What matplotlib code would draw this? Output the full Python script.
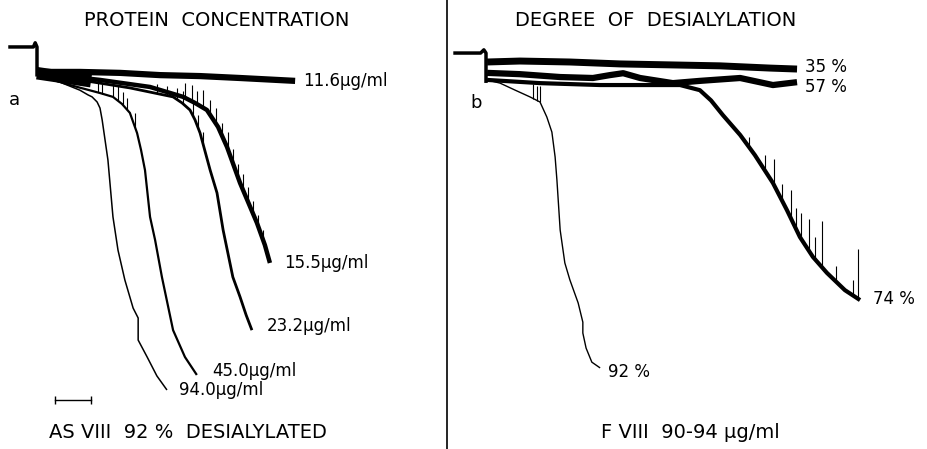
import matplotlib
matplotlib.use("Agg")
import matplotlib.pyplot as plt
from matplotlib.lines import Line2D
import numpy as np

# time in min after addition, response in % (0 = baseline after addition)

# panel a: protein concentration series
pre_a_t = [-0.75, -0.1, -0.05, 0.0, 0.0]
pre_a_y = [-7.2, -7.2, -8.5, -7.2, 1.5]

a_labels = ["11.6\u00b5g/ml", "15.5\u00b5g/ml", "23.2\u00b5g/ml", "45.0\u00b5g/ml", "94.0\u00b5g/ml"]

a116_t = [0, 1.19, 2.31, 3.42, 4.53, 5.64, 7.17]
a116_y = [0.6, 0.6, 0.9, 1.6, 1.9, 2.5, 3.4]

a155_t = [0, 1.75, 3.14, 4.06, 4.39, 4.72, 5.03, 5.28, 5.64, 6.11, 6.33, 6.47]
a155_y = [0.9, 3.1, 5.3, 8.4, 10.3, 12.5, 17.8, 24.1, 35.3, 47.8, 54.7, 60.3]

a232_t = [0, 1.19, 2.58, 3.78, 4.03, 4.25, 4.39, 4.53, 4.81, 5.0, 5.17, 5.44, 5.64,
          5.81, 5.97]
a232_y = [1.3, 3.1, 5.6, 8.4, 10.3, 12.5, 15.6, 19.7, 31.3, 38.4, 50.0, 64.7, 70.9,
          76.6, 81.3]

a450_t = [0, 0.92, 1.75, 2.11, 2.36, 2.58, 2.78, 2.89, 3.0, 3.14, 3.28, 3.47, 3.78,
          4.11, 4.44]
a450_y = [1.6, 4.7, 7.2, 8.4, 10.6, 13.4, 19.7, 25.0, 31.3, 45.9, 53.1, 64.7, 81.3,
          89.7, 95.3]

a940_t = [0, 0.64, 1.19, 1.42, 1.53, 1.67, 1.75, 1.81, 1.97, 2.11, 2.25, 2.44, 2.67,
          2.81, 2.81, 3.06, 3.33, 3.61]
a940_y = [1.6, 3.8, 6.3, 7.8, 8.4, 10.0, 11.9, 15.6, 28.1, 45.9, 56.3, 65.6, 74.4,
          77.5, 84.4, 89.7, 95.6, 100.0]

# oscillation spikes (time, height)
a155_spk_t = [4.1, 4.3, 4.45, 4.6, 4.8, 4.97, 5.14, 5.3, 5.44, 5.58, 5.72, 5.86, 6.0, 6.14, 6.28]
a155_spk_h = [4.5, 5.0, 4.0, 5.5, 4.5, 5.0, 4.0, 5.5, 4.5, 4.0, 5.0, 4.5, 4.0, 3.5, 3.0]
a232_spk_t = [3.33, 3.61, 3.89, 4.06, 4.33, 4.47, 4.61]
a232_spk_h = [3.0, 3.0, 3.5, 4.0, 4.5, 4.0, 3.5]
a450_spk_t = [1.69, 1.81, 2.11, 2.25, 2.39, 2.5, 2.72]
a450_spk_h = [3.5, 3.0, 4.0, 4.5, 4.0, 3.5, 4.5]

scale_t = [0.5, 1.5]
scale_y = [103.1, 103.1]

# panel b: degree of desialylation
pre_b_t = [-0.86, -0.15, -0.06, 0.0, 0.0]
pre_b_y = [-5.3, -5.3, -6.3, -5.3, 3.5]

b_labels = ["35 %", "57 %", "74 %", "92 %"]

b35_t = [0.03, 0.94, 2.33, 3.72, 5.11, 6.5, 7.89, 8.64]
b35_y = [-2.5, -2.8, -2.5, -1.9, -1.6, -1.3, -0.6, -0.3]

b57_t = [0.03, 0.94, 2.06, 2.97, 3.44, 3.81, 4.28, 5.19, 5.94, 7.06, 7.97, 8.64]
b57_y = [0.9, 1.3, 2.2, 2.5, 1.6, 1.0, 2.5, 4.1, 3.4, 2.5, 4.7, 3.8]

b74_t = [0.03, 1.5, 3.17, 5.39, 5.94, 6.25, 6.58, 7.06, 7.47, 7.97, 8.36, 8.72, 9.08,
         9.47, 9.97, 10.39]
b74_y = [3.1, 4.1, 4.7, 4.7, 6.3, 9.5, 14.1, 20.3, 26.6, 35.3, 43.8, 52.2, 58.4,
         63.4, 68.8, 71.9]

b92_t = [0.03, 0.39, 0.81, 1.22, 1.5, 1.69, 1.83, 1.92, 1.97, 2.06, 2.19, 2.33,
         2.56, 2.69, 2.69, 2.78, 2.94, 3.17]
b92_y = [3.1, 4.1, 6.3, 8.4, 10.0, 14.7, 19.4, 27.2, 34.4, 50.0, 60.3, 65.6,
         72.8, 78.8, 82.2, 86.9, 91.3, 93.1]

b74_spk_t = [7.3, 7.75, 8.0, 8.22, 8.47, 8.61, 8.75, 8.97, 9.14, 9.33, 9.72, 10.2, 10.33]
b74_spk_h = [3.0, 5.0, 8.0, 5.0, 9.0, 6.5, 8.0, 10.0, 7.0, 14.5, 5.0, 5.0, 15.5]
b92_spk_t = [1.31, 1.42, 1.5]
b92_spk_h = [4.5, 4.5, 5.0]

W, H = 928, 449
fig = plt.figure(figsize=(W / 100, H / 100), dpi=100)
fig.patch.set_facecolor("white")

# px -> data: t = (px - x0)/36, y = (py - 70)/3.2
ax_a = fig.add_axes([0, 0, 447 / W, 1])
ax_a.set_xlim(-37 / 36, 410 / 36)
ax_a.set_ylim(379 / 3.2, -70 / 3.2)
ax_b = fig.add_axes([448 / W, 0, 480 / W, 1])
ax_b.set_xlim(-38 / 36, 442 / 36)
ax_b.set_ylim(379 / 3.2, -70 / 3.2)
for ax in (ax_a, ax_b):
    ax.axis("off")

k = "black"
lab_kw = dict(fontsize=12, color=k, va="center", ha="left",
              textcoords="offset points")


def trace(ax, t, y, lw, label=None, dx=10, dy=0):
    ax.plot(t, y, color=k, lw=lw, solid_capstyle="butt", solid_joinstyle="round")
    if label:
        ax.annotate(label, (t[-1], y[-1]), xytext=(dx, dy), **lab_kw)


def spikes(ax, t, y, st, sh):
    base = np.interp(st, t, y)
    ax.vlines(st, base - np.array(sh), base, color=k, lw=0.8)


# panel a
ax_a.plot(pre_a_t, pre_a_y, color=k, lw=2.5)
trace(ax_a, a116_t, a116_y, 4.5, a_labels[0], dx=6)
trace(ax_a, a155_t, a155_y, 3.2, a_labels[1], dx=10, dy=0)
trace(ax_a, a232_t, a232_y, 2.0, a_labels[2], dx=11, dy=3)
trace(ax_a, a450_t, a450_y, 1.6, a_labels[3], dx=11, dy=3)
trace(ax_a, a940_t, a940_y, 1.1, a_labels[4], dx=9, dy=0)
ax_a.plot([0, 1.5], [1.0, 3.5], color=k, lw=9, solid_capstyle="butt")
spikes(ax_a, a155_t, a155_y, a155_spk_t, a155_spk_h)
spikes(ax_a, a232_t, a232_y, a232_spk_t, a232_spk_h)
spikes(ax_a, a450_t, a450_y, a450_spk_t, a450_spk_h)
ax_a.plot(scale_t, scale_y, color=k, lw=1.0, marker="|", ms=6, mew=1.0)
ax_a.text(-0.64, 9.4, "a", fontsize=13, ha="center", va="center")

# panel b
ax_b.plot(pre_b_t, pre_b_y, color=k, lw=2.5)
trace(ax_b, b35_t, b35_y, 5.0, b_labels[0], dx=6, dy=1.5)
trace(ax_b, b57_t, b57_y, 4.5, b_labels[1], dx=6, dy=-3.5)
trace(ax_b, b74_t, b74_y, 3.0, b_labels[2], dx=9, dy=1)
trace(ax_b, b92_t, b92_y, 1.0, b_labels[3], dx=6, dy=-3)
spikes(ax_b, b74_t, b74_y, b74_spk_t, b74_spk_h)
spikes(ax_b, b92_t, b92_y, b92_spk_t, b92_spk_h)
ax_b.text(-0.28, 10.3, "b", fontsize=13, ha="center", va="center")

# headings
ttl = dict(fontsize=14, ha="center", va="center", color=k)
fig.text(217 / W, 1 - 20 / H, "PROTEIN  CONCENTRATION", **ttl)
fig.text(656 / W, 1 - 20 / H, "DEGREE  OF  DESIALYLATION", **ttl)
fig.text(188 / W, 1 - 432 / H, "AS VIII  92 %  DESIALYLATED", **ttl)
fig.text(690 / W, 1 - 432 / H, "F VIII  90-94 \u00b5g/ml", **ttl)

# divider
fig.add_artist(Line2D([447 / W, 447 / W], [0, 1], color=k, lw=1.2,
                      transform=fig.transFigure))

fig.savefig("out.png", dpi=100, facecolor="white")
